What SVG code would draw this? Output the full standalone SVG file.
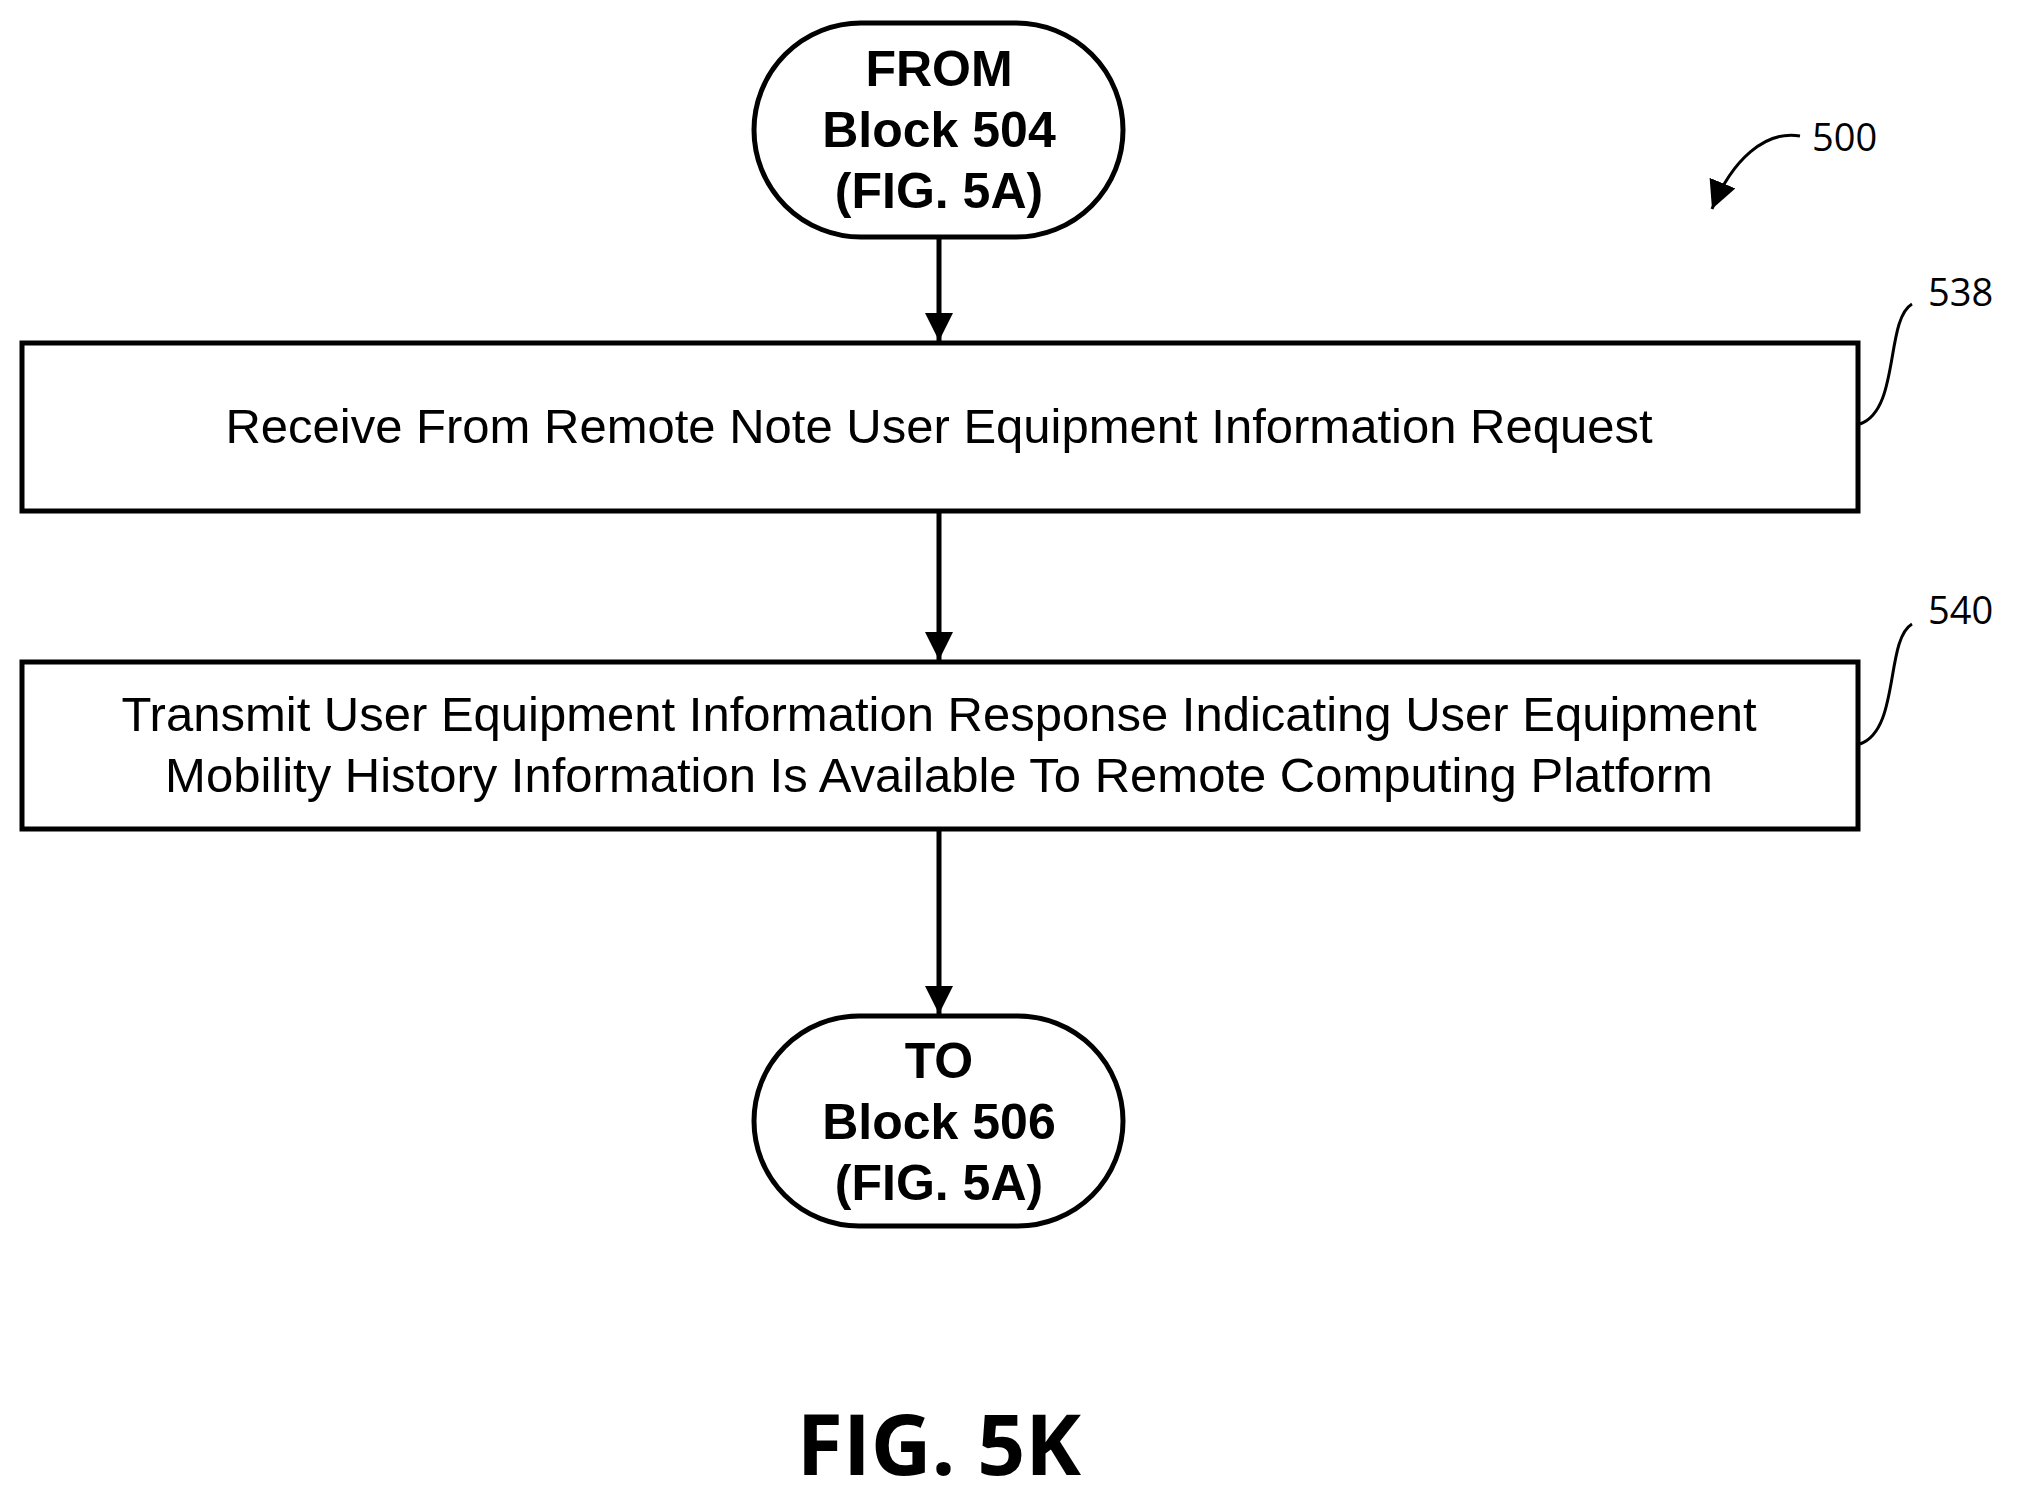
<svg xmlns="http://www.w3.org/2000/svg" width="2017" height="1497" viewBox="0 0 2017 1497">
<style>
.s{fill:#fff;stroke:#000;stroke-width:5}
.t{font-family:"Liberation Sans",Arial,sans-serif;font-size:49px;text-anchor:middle}
.b{font-family:"Liberation Sans",Arial,sans-serif;font-size:50px;font-weight:bold;text-anchor:middle}
.n{font-family:"Open Sans","DejaVu Sans",sans-serif;font-size:38px}
.l{fill:none;stroke:#000;stroke-width:3}
</style>
<defs>
<marker id="h" viewBox="0 0 10 10" refX="10" refY="5" markerWidth="28" markerHeight="28" orient="auto" markerUnits="userSpaceOnUse"><path d="M0,0L10,5L0,10z"/></marker></defs>
<g id="start"><rect class="s" x="754" y="23" width="369" height="214" rx="107"/>
<text class="b" x="939" y="86">FROM</text><text class="b" x="939" y="147">Block 504</text><text class="b" x="939" y="208">(FIG. 5A)</text></g>
<g id="n538"><rect class="s" x="22" y="343" width="1836" height="168"/>
<text class="t" x="939" y="443">Receive From Remote Note User Equipment Information Request</text></g>
<g id="n540"><rect class="s" x="22" y="662" width="1836" height="167"/>
<text class="t" x="939" y="731">Transmit User Equipment Information Response Indicating User Equipment</text>
<text class="t" x="939" y="792">Mobility History Information Is Available To Remote Computing Platform</text></g>
<g id="end"><rect class="s" x="754" y="1016" width="369" height="210" rx="105"/>
<text class="b" x="939" y="1078">TO</text><text class="b" x="939" y="1139">Block 506</text><text class="b" x="939" y="1200">(FIG. 5A)</text></g>
<g id="connectors" stroke="#000" stroke-width="5">
<line x1="939" y1="239" x2="939" y2="341" marker-end="url(#h)"/>
<line x1="939" y1="513" x2="939" y2="660" marker-end="url(#h)"/>
<line x1="939" y1="831" x2="939" y2="1014" marker-end="url(#h)"/>
</g>
<g id="labels">
<path class="l" d="M1860,424C1900,410 1885,320 1912,304"/>
<path class="l" d="M1860,744C1900,730 1885,640 1912,624"/>
<path class="l" d="M1800,136C1765,130 1732,160 1712,209" marker-end="url(#h)"/>
<text class="n" x="1928" y="306">538</text>
<text class="n" x="1928" y="624">540</text>
<text class="n" x="1812" y="151">500</text>
<text x="939" y="1475" style="font-family:'Open Sans','DejaVu Sans',sans-serif;font-size:84px;font-weight:bold;text-anchor:middle">FIG. 5K</text>
</g>
</svg>
